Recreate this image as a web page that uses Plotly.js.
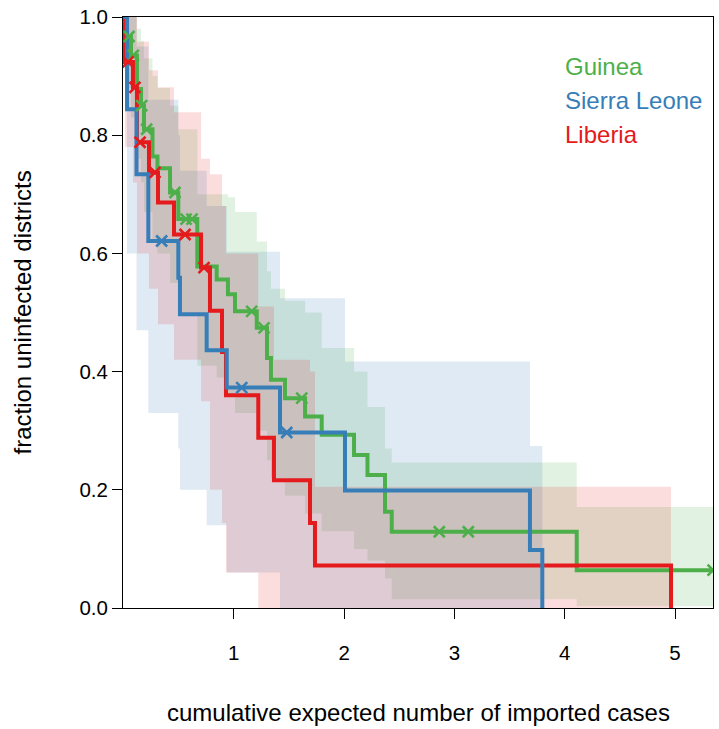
<!DOCTYPE html>
<html>
<head>
<meta charset="utf-8">
<script src="https://cdn.plot.ly/plotly-3.0.1.min.js"></script>
<style>
  html, body { margin: 0; padding: 0; background: #ffffff; }
  #chart { width: 719px; height: 729px; }
</style>
</head>
<body>
<div id="chart"></div>
<script>
// ---- Data ----
var SERIES_NAMES = ["Guinea", "Sierra Leone", "Liberia"];

// Guinea (green): step times, survival estimate, CI bounds per segment, censor marks
var GREEN_T  = [0, 0.032, 0.068, 0.122, 0.159, 0.186, 0.263, 0.308, 0.422, 0.497, 0.669, 0.845, 0.947, 1.011, 1.208, 1.301, 1.337, 1.464, 1.646, 1.797, 2.090, 2.212, 2.371, 2.432, 4.109];
var GREEN_S  = [1, 0.967, 0.935, 0.878, 0.850, 0.810, 0.764, 0.744, 0.703, 0.658, 0.578, 0.556, 0.531, 0.502, 0.474, 0.423, 0.386, 0.355, 0.324, 0.293, 0.259, 0.225, 0.163, 0.129, 0.064];
var GREEN_UP = [1, 1, 1, 0.98, 0.96, 0.93, 0.90, 0.88, 0.85, 0.81, 0.70, 0.70, 0.695, 0.67, 0.62, 0.57, 0.54, 0.52, 0.50, 0.44, 0.40, 0.34, 0.27, 0.246, 0.171];
var GREEN_LO = [1, 0.88, 0.83, 0.76, 0.72, 0.67, 0.62, 0.60, 0.55, 0.50, 0.41, 0.39, 0.36, 0.33, 0.30, 0.25, 0.22, 0.19, 0.16, 0.13, 0.10, 0.08, 0.05, 0.015, 0.003];
var GREEN_END = 5.345;
var GREEN_CX = [0.05, 0.089, 0.165, 0.21, 0.467, 0.567, 0.621, 1.162, 1.274, 1.616, 2.863, 3.126, 5.345];
var GREEN_CY = [0.967, 0.935, 0.850, 0.810, 0.703, 0.658, 0.658, 0.502, 0.474, 0.355, 0.129, 0.129, 0.064];

// Sierra Leone (blue)
var BLUE_T  = [0, 0.032, 0.118, 0.225, 0.497, 0.512, 0.754, 0.936, 1.419, 2.008, 3.685, 3.797];
var BLUE_S  = [1, 0.844, 0.734, 0.621, 0.559, 0.497, 0.436, 0.373, 0.297, 0.199, 0.098, 0];
var BLUE_UP = [1, 1, 0.95, 0.86, 0.80, 0.74, 0.68, 0.603, 0.524, 0.417, 0.274];
var BLUE_LO = [1, 0.60, 0.47, 0.33, 0.27, 0.20, 0.14, 0.06, 0, 0, 0];
var BLUE_CX = [0.346, 1.072, 1.48];
var BLUE_CY = [0.621, 0.373, 0.297];

// Liberia (red)
var RED_T  = [0, 0.014, 0.086, 0.122, 0.231, 0.313, 0.458, 0.703, 0.784, 0.893, 0.929, 1.222, 1.364, 1.691, 1.736, 4.964];
var RED_S  = [1, 0.924, 0.881, 0.788, 0.737, 0.686, 0.632, 0.576, 0.503, 0.433, 0.360, 0.288, 0.216, 0.144, 0.072, 0];
var RED_UP = [1, 1, 1, 0.958, 0.91, 0.881, 0.839, 0.76, 0.734, 0.68, 0.60, 0.51, 0.42, 0.40, 0.205];
var RED_LO = [1, 0.78, 0.72, 0.60, 0.54, 0.48, 0.42, 0.35, 0.20, 0.144, 0.06, 0, 0, 0, 0];
var RED_CX = [0.041, 0.104, 0.15, 0.286, 0.558, 0.73];
var RED_CY = [0.924, 0.881, 0.788, 0.737, 0.632, 0.576];

var X_TICKS = [1, 2, 3, 4, 5];
var Y_TICKS = [0, 0.2, 0.4, 0.6, 0.8, 1.0];
var X_TITLE = "cumulative expected number of imported cases";
var Y_TITLE = "fraction uninfected districts";

// ---- Styling ----
var COL = { green: "#4DAF4A", blue: "#377EB8", red: "#E41A1C" };
var BAND = { green: "rgba(77,175,74,0.16)", blue: "rgba(55,126,184,0.16)", red: "rgba(228,26,28,0.15)" };
var FONT = "Liberation Sans, Arial, Helvetica, sans-serif";

function bandTrace(T, U, L, end, fill) {
  var n = U.length, xs = [], ys = [], i, x0, x1;
  for (i = 0; i < n; i++) {
    x0 = T[i]; x1 = (i + 1 < T.length && i + 1 < n) ? T[i + 1] : end;
    xs.push(x0, x1); ys.push(U[i], U[i]);
  }
  for (i = n - 1; i >= 0; i--) {
    x0 = T[i]; x1 = (i + 1 < T.length && i + 1 < n) ? T[i + 1] : end;
    xs.push(x1, x0); ys.push(L[i], L[i]);
  }
  return { x: xs, y: ys, type: "scatter", mode: "lines", fill: "toself", fillcolor: fill,
           line: { width: 0, color: "rgba(0,0,0,0)" }, hoverinfo: "skip", showlegend: false };
}
function stepTrace(xs, ys, color) {
  return { x: xs, y: ys, type: "scatter", mode: "lines", line: { shape: "hv", width: 4, color: color },
           hoverinfo: "skip", showlegend: false };
}
function markTrace(xs, ys, color) {
  return { x: xs, y: ys, type: "scatter", mode: "markers",
           marker: { symbol: "x-thin-open", size: 11, color: color, line: { width: 2.6, color: color } },
           hoverinfo: "skip", showlegend: false };
}

var traces = [
  bandTrace(GREEN_T, GREEN_UP, GREEN_LO, GREEN_END, BAND.green),
  bandTrace(BLUE_T, BLUE_UP, BLUE_LO, BLUE_T[BLUE_T.length - 1], BAND.blue),
  bandTrace(RED_T, RED_UP, RED_LO, RED_T[RED_T.length - 1], BAND.red),
  stepTrace(GREEN_T.concat([GREEN_END]), GREEN_S.concat([GREEN_S[GREEN_S.length - 1]]), COL.green),
  stepTrace(RED_T, RED_S, COL.red),
  stepTrace(BLUE_T, BLUE_S, COL.blue),
  markTrace(GREEN_CX, GREEN_CY, COL.green),
  markTrace(RED_CX, RED_CY, COL.red),
  markTrace(BLUE_CX, BLUE_CY, COL.blue)
];

var legendY = [0.917, 0.859, 0.802];
var legendCol = [COL.green, COL.blue, COL.red];
var annotations = [];
for (var k = 0; k < SERIES_NAMES.length; k++) {
  annotations.push({ xref: "x", yref: "y", x: 3.985, y: legendY[k], xanchor: "left", yanchor: "middle",
    text: SERIES_NAMES[k], showarrow: false, font: { family: FONT, size: 24, color: legendCol[k] } });
}
annotations.push({ xref: "paper", yref: "paper", x: 0.5, y: 0, yshift: -104, xanchor: "center", yanchor: "middle",
  text: X_TITLE, showarrow: false, font: { family: FONT, size: 24, color: "#000" } });
annotations.push({ xref: "paper", yref: "paper", x: 0, y: 0.5, xshift: -101, xanchor: "center", yanchor: "middle",
  textangle: -90, text: Y_TITLE, showarrow: false, font: { family: FONT, size: 24, color: "#000" } });

var layout = {
  width: 719, height: 729,
  margin: { l: 123, r: 6, t: 17, b: 121, pad: 0 },
  paper_bgcolor: "#ffffff", plot_bgcolor: "#ffffff",
  showlegend: false,
  font: { family: FONT, size: 20, color: "#000" },
  xaxis: {
    range: [-0.0045, 5.3445], tickvals: X_TICKS, ticktext: X_TICKS.map(String),
    ticks: "outside", ticklen: 10, tickwidth: 1, tickcolor: "#000",
    showline: true, mirror: true, linecolor: "#000", linewidth: 1,
    showgrid: false, zeroline: false, ticklabelstandoff: 16,
    tickfont: { family: FONT, size: 20.5, color: "#000" }
  },
  yaxis: {
    range: [0, 1], tickvals: Y_TICKS, ticktext: Y_TICKS.map(function (v) { return v.toFixed(1); }),
    ticks: "outside", ticklen: 10, tickwidth: 1, tickcolor: "#000",
    showline: true, mirror: true, linecolor: "#000", linewidth: 1,
    showgrid: false, zeroline: false, ticklabelstandoff: 0,
    tickfont: { family: FONT, size: 20.5, color: "#000" }
  },
  annotations: annotations
};

Plotly.newPlot("chart", traces, layout, { displayModeBar: false, staticPlot: true });
</script>
</body>
</html>
